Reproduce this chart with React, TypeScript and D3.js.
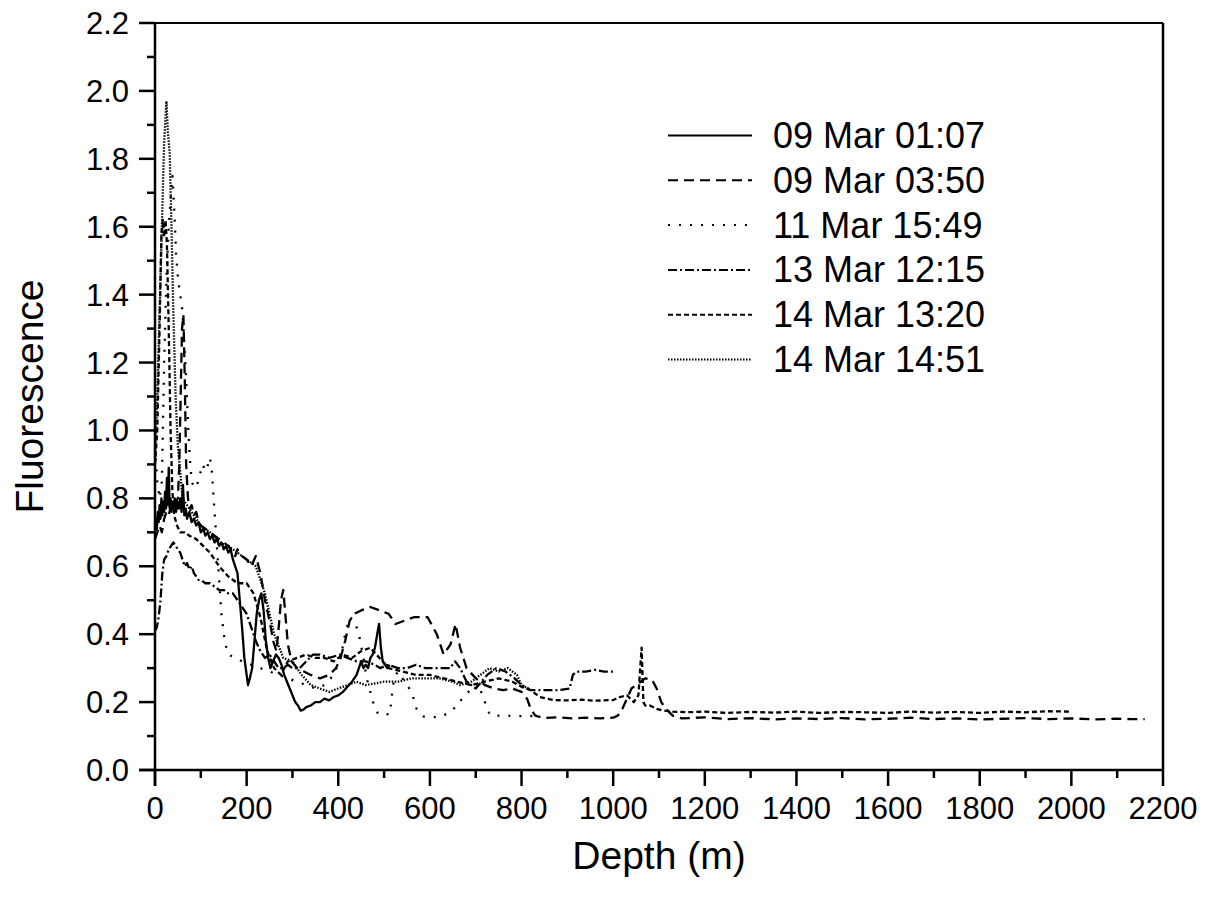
import React from 'react';
import * as d3 from 'd3';

const seriesNames = ['09 Mar 01:07', '09 Mar 03:50', '11 Mar 15:49', '13 Mar 12:15', '14 Mar 13:20', '14 Mar 14:51'];

// [depth (m), fluorescence]
const cast0907: [number, number][] = [
  [0, 0.7], [2, 0.74], [4, 0.71], [6, 0.76], [8, 0.73], [10, 0.78], [12, 0.74], [14, 0.8], [16, 0.75], [18, 0.79],
  [20, 0.76], [22, 0.82], [24, 0.77], [26, 0.86], [28, 0.78], [30, 0.89], [32, 0.77], [34, 0.8], [36, 0.76], [38, 0.79],
  [40, 0.77], [43, 0.8], [46, 0.76], [49, 0.79], [52, 0.77], [55, 0.8], [58, 0.76], [61, 0.84], [64, 0.75], [67, 0.77],
  [70, 0.74], [75, 0.76], [80, 0.73], [85, 0.74], [90, 0.72], [95, 0.73], [100, 0.7], [105, 0.71], [110, 0.69], [115, 0.7],
  [120, 0.68], [125, 0.69], [130, 0.67], [135, 0.68], [140, 0.66], [145, 0.67], [150, 0.65], [155, 0.66], [160, 0.64],
  [165, 0.65], [170, 0.62], [175, 0.6], [180, 0.58], [185, 0.5], [190, 0.42], [195, 0.33], [200, 0.28], [203, 0.25],
  [207, 0.27], [212, 0.3], [217, 0.38], [222, 0.46], [227, 0.5], [232, 0.52], [237, 0.47], [242, 0.38], [247, 0.33],
  [252, 0.3], [258, 0.32], [264, 0.34], [270, 0.33], [276, 0.31], [282, 0.28], [288, 0.26], [294, 0.24], [300, 0.22],
  [306, 0.2], [312, 0.19], [318, 0.175], [324, 0.178], [330, 0.185], [340, 0.19], [350, 0.2], [360, 0.2], [370, 0.21],
  [380, 0.205], [390, 0.215], [400, 0.22], [410, 0.23], [420, 0.245], [430, 0.26], [440, 0.28], [445, 0.3], [450, 0.32],
  [455, 0.3], [460, 0.31], [465, 0.3], [470, 0.33], [475, 0.34], [480, 0.36], [485, 0.4], [489, 0.43], [493, 0.36],
  [497, 0.32], [502, 0.31], [507, 0.3], [512, 0.31],
];

const cast0350: [number, number][] = [
  [0, 0.68], [5, 0.7], [10, 0.72], [15, 0.7], [20, 0.74], [25, 0.76], [30, 0.75], [35, 0.78], [40, 0.77], [45, 0.79],
  [50, 0.8], [53, 0.9], [56, 1.1], [59, 1.3], [62, 1.34], [65, 1.15], [68, 0.9], [72, 0.8], [76, 0.77], [80, 0.78],
  [85, 0.75], [90, 0.76], [95, 0.73], [100, 0.72], [110, 0.71], [120, 0.7], [130, 0.69], [140, 0.68], [150, 0.67],
  [160, 0.66], [170, 0.64], [175, 0.63], [180, 0.65], [190, 0.63], [200, 0.62], [210, 0.6], [220, 0.63], [230, 0.58],
  [240, 0.5], [250, 0.44], [258, 0.38], [265, 0.35], [270, 0.42], [275, 0.5], [280, 0.53], [285, 0.45], [290, 0.37],
  [298, 0.32], [310, 0.3], [325, 0.29], [340, 0.28], [360, 0.27], [380, 0.28], [395, 0.3], [405, 0.33], [415, 0.38],
  [425, 0.44], [435, 0.46], [450, 0.47], [470, 0.48], [490, 0.47], [510, 0.46], [525, 0.43], [545, 0.44], [565, 0.45],
  [595, 0.45], [615, 0.4], [630, 0.34], [645, 0.37], [656, 0.43], [666, 0.36], [680, 0.3], [700, 0.27], [720, 0.25],
  [740, 0.24], [760, 0.235], [780, 0.24], [800, 0.23], [812, 0.21], [820, 0.18], [830, 0.16], [850, 0.153], [880, 0.155],
  [910, 0.152], [940, 0.154], [970, 0.152], [1000, 0.154], [1010, 0.16], [1020, 0.18], [1030, 0.21], [1040, 0.24],
  [1050, 0.25], [1060, 0.26], [1070, 0.27], [1085, 0.265], [1095, 0.24], [1105, 0.2], [1115, 0.18], [1130, 0.16],
  [1150, 0.152], [1200, 0.155], [1250, 0.15], [1300, 0.153], [1350, 0.149], [1400, 0.152], [1450, 0.15], [1500, 0.153],
  [1550, 0.149], [1600, 0.151], [1650, 0.154], [1700, 0.15], [1750, 0.152], [1800, 0.149], [1850, 0.151], [1900, 0.153],
  [1950, 0.15], [2000, 0.152], [2050, 0.149], [2100, 0.151], [2130, 0.15], [2160, 0.15],
];

const cast1549: [number, number][] = [
  [0, 0.95], [5, 0.85], [10, 0.8], [15, 0.85], [20, 1.2], [25, 1.45], [30, 1.6], [35, 1.7], [38, 1.75], [42, 1.65],
  [46, 1.52], [50, 1.45], [55, 1.4], [60, 1.35], [64, 1.25], [68, 1.15], [72, 1.02], [76, 0.92], [80, 0.85], [86, 0.83],
  [92, 0.84], [98, 0.87], [104, 0.9], [110, 0.88], [116, 0.9], [120, 0.92], [124, 0.88], [128, 0.8], [132, 0.72],
  [138, 0.6], [145, 0.46], [152, 0.38], [160, 0.34], [175, 0.33], [190, 0.32], [210, 0.31], [230, 0.3], [250, 0.29],
  [270, 0.28], [290, 0.27], [310, 0.26], [330, 0.25], [350, 0.24], [370, 0.25], [390, 0.28], [405, 0.33], [415, 0.4],
  [425, 0.45], [435, 0.44], [445, 0.4], [455, 0.33], [462, 0.27], [470, 0.23], [478, 0.19], [487, 0.165], [500, 0.163],
  [513, 0.165], [517, 0.22], [522, 0.27], [530, 0.29], [540, 0.27], [550, 0.25], [560, 0.23], [571, 0.18], [585, 0.158],
  [600, 0.156], [622, 0.156], [644, 0.17], [659, 0.19], [670, 0.21], [681, 0.225], [694, 0.245], [705, 0.255],
  [716, 0.215], [724, 0.185], [731, 0.162], [750, 0.16], [770, 0.16], [790, 0.158], [810, 0.16], [830, 0.158],
];

const cast1215: [number, number][] = [
  [0, 0.41], [4, 0.42], [8, 0.45], [12, 0.5], [16, 0.58], [20, 0.62], [25, 0.63], [30, 0.65], [35, 0.66], [40, 0.67],
  [45, 0.66], [50, 0.65], [55, 0.64], [60, 0.62], [65, 0.6], [70, 0.61], [75, 0.59], [80, 0.6], [85, 0.58], [90, 0.57],
  [95, 0.56], [100, 0.56], [110, 0.55], [120, 0.55], [130, 0.54], [140, 0.53], [150, 0.53], [160, 0.52], [170, 0.52],
  [180, 0.5], [190, 0.48], [200, 0.46], [210, 0.42], [220, 0.38], [230, 0.35], [240, 0.33], [250, 0.34], [260, 0.32],
  [270, 0.3], [280, 0.3], [290, 0.31], [300, 0.3], [316, 0.3], [330, 0.32], [345, 0.34], [360, 0.34], [380, 0.33],
  [404, 0.34], [420, 0.33], [440, 0.32], [460, 0.32], [480, 0.31], [491, 0.3], [510, 0.31], [530, 0.3], [550, 0.3],
  [570, 0.31], [590, 0.3], [620, 0.3], [644, 0.3], [655, 0.32], [666, 0.3], [680, 0.26], [700, 0.24], [725, 0.28],
  [745, 0.3], [765, 0.29], [785, 0.27], [800, 0.25], [820, 0.235], [850, 0.235], [880, 0.235], [905, 0.24],
  [912, 0.28], [920, 0.29], [940, 0.29], [960, 0.295], [980, 0.29], [1000, 0.29],
];

const cast1320: [number, number][] = [
  [0, 0.9], [5, 1.0], [10, 1.3], [14, 1.58], [17, 1.62], [20, 1.57], [23, 1.62], [26, 1.55], [30, 1.3], [34, 1.0],
  [38, 0.82], [42, 0.75], [48, 0.72], [55, 0.7], [65, 0.7], [75, 0.69], [90, 0.68], [105, 0.66], [120, 0.64], [140, 0.6],
  [160, 0.57], [180, 0.55], [200, 0.55], [215, 0.52], [230, 0.45], [245, 0.35], [260, 0.3], [275, 0.28], [290, 0.32],
  [310, 0.33], [330, 0.34], [350, 0.33], [370, 0.33], [390, 0.32], [410, 0.34], [430, 0.33], [450, 0.35], [470, 0.36],
  [490, 0.33], [510, 0.3], [540, 0.29], [570, 0.28], [600, 0.28], [630, 0.27], [660, 0.26], [690, 0.25], [720, 0.26],
  [750, 0.27], [780, 0.26], [800, 0.245], [820, 0.235], [840, 0.215], [870, 0.206], [900, 0.205], [930, 0.207],
  [960, 0.204], [1000, 0.206], [1015, 0.215], [1030, 0.22], [1045, 0.2], [1055, 0.22], [1062, 0.36], [1066, 0.2],
  [1070, 0.19], [1080, 0.19], [1095, 0.18], [1110, 0.175], [1130, 0.172], [1160, 0.17], [1200, 0.172], [1250, 0.168],
  [1300, 0.171], [1350, 0.169], [1400, 0.172], [1450, 0.168], [1500, 0.171], [1550, 0.17], [1600, 0.168],
  [1650, 0.172], [1700, 0.169], [1750, 0.171], [1800, 0.168], [1850, 0.172], [1900, 0.17], [1950, 0.173], [2000, 0.172],
];

const cast1451: [number, number][] = [
  [0, 0.92], [5, 1.1], [10, 1.35], [15, 1.6], [20, 1.85], [25, 1.97], [28, 1.88], [32, 1.82], [36, 1.6], [40, 1.35],
  [45, 1.1], [50, 0.95], [55, 0.88], [60, 0.8], [70, 0.78], [80, 0.76], [100, 0.72], [120, 0.7], [140, 0.67],
  [160, 0.66], [180, 0.64], [200, 0.62], [220, 0.6], [240, 0.52], [260, 0.4], [280, 0.33], [300, 0.32], [320, 0.28],
  [340, 0.25], [360, 0.24], [380, 0.23], [400, 0.24], [420, 0.25], [440, 0.26], [460, 0.25], [480, 0.255], [500, 0.26],
  [530, 0.26], [560, 0.27], [585, 0.27], [620, 0.27], [650, 0.26], [666, 0.25], [690, 0.26], [710, 0.28], [730, 0.3],
  [750, 0.29], [770, 0.3], [790, 0.28], [800, 0.25], [815, 0.24],
];

const casts = [cast0907, cast0350, cast1549, cast1215, cast1320, cast1451];
const dashPatterns = ['none', '10 6', '2 9', '9 3 2 3', '5 3', '1.5 1.5'];

const xMajorTicks = [0, 200, 400, 600, 800, 1000, 1200, 1400, 1600, 1800, 2000, 2200];
const yMajorTicks = [0.0, 0.2, 0.4, 0.6, 0.8, 1.0, 1.2, 1.4, 1.6, 1.8, 2.0, 2.2];

const W = 1205;
const H = 899;
const left = 155;
const right = 1163;
const top = 23;
const bottom = 770;
const font = '"Liberation Sans", Arial, Helvetica, sans-serif';

export default function App() {
  const x = d3.scaleLinear().domain([0, 2200]).range([left, right]);
  const y = d3.scaleLinear().domain([0, 2.2]).range([bottom, top]);
  const line = d3.line<[number, number]>().x((d) => x(d[0])).y((d) => y(d[1]));

  const xMinor = d3.range(100, 2200, 200);
  const yMinor = d3.range(0.1, 2.2, 0.2);

  return (
    <svg width={W} height={H} style={{ position: 'absolute', left: 0, top: 0, background: '#fff' }}>
      <rect x={0} y={0} width={W} height={H} fill="#fff" />
      <g>
        {casts.map((c, i) => (
          <path
            key={i}
            d={line(c) || ''}
            fill="none"
            stroke="#000"
            strokeWidth={2.3}
            strokeDasharray={dashPatterns[i]}
            strokeLinejoin="round"
          />
        ))}
      </g>
      {/* frame */}
      <line x1={left} x2={right} y1={top} y2={top} stroke="#000" strokeWidth={2} />
      <line x1={right} x2={right} y1={top} y2={bottom} stroke="#000" strokeWidth={2.5} />
      <line x1={left - 16} x2={right} y1={bottom} y2={bottom} stroke="#000" strokeWidth={2.5} />
      <line x1={left} x2={left} y1={top} y2={bottom + 16} stroke="#000" strokeWidth={2.5} />
      {/* x ticks */}
      {xMajorTicks.map((t) => (
        <g key={'xt' + t}>
          <line x1={x(t)} x2={x(t)} y1={bottom} y2={bottom + 16} stroke="#000" strokeWidth={2.5} />
          <text x={x(t)} y={819} textAnchor="middle" fontFamily={font} fontSize={31}>
            {t}
          </text>
        </g>
      ))}
      {xMinor.map((t) => (
        <line key={'xm' + t} x1={x(t)} x2={x(t)} y1={bottom} y2={bottom + 8} stroke="#000" strokeWidth={2.5} />
      ))}
      {/* y ticks */}
      {yMajorTicks.map((t) => (
        <g key={'yt' + t}>
          <line x1={left - 16} x2={left} y1={y(t)} y2={y(t)} stroke="#000" strokeWidth={2.5} />
          <text x={129} y={y(t) + 11} textAnchor="end" fontFamily={font} fontSize={31}>
            {t.toFixed(1)}
          </text>
        </g>
      ))}
      {yMinor.map((t) => (
        <line key={'ym' + t} x1={left - 8} x2={left} y1={y(t)} y2={y(t)} stroke="#000" strokeWidth={2.5} />
      ))}
      {/* axis titles */}
      <text x={(left + right) / 2} y={869} textAnchor="middle" fontFamily={font} fontSize={39}>
        Depth (m)
      </text>
      <text
        transform={`translate(43, ${(top + bottom) / 2}) rotate(-90)`}
        textAnchor="middle"
        fontFamily={font}
        fontSize={39}
      >
        Fluorescence
      </text>
      {/* legend */}
      {seriesNames.map((name, i) => {
        const ly = 135.5 + i * 44.8;
        return (
          <g key={name}>
            <line x1={668} x2={752} y1={ly} y2={ly} stroke="#000" strokeWidth={2} strokeDasharray={dashPatterns[i]} />
            <text x={773} y={ly + 12.5} fontFamily={font} fontSize={36}>
              {name}
            </text>
          </g>
        );
      })}
    </svg>
  );
}
